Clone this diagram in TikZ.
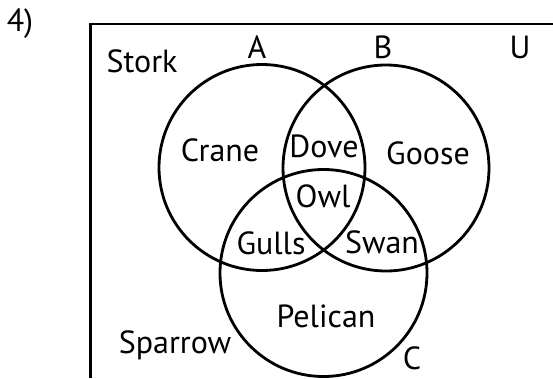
\documentclass[tikz,border=0pt]{standalone}
\usepackage{fontspec}
\setmainfont{PT Sans}
\begin{document}
\begin{tikzpicture}[x=1pt,y=-1pt,line width=2.8pt,
    lbl/.style={font=\fontsize{32}{34}\selectfont,inner sep=0pt}]
\useasboundingbox (0,0) rectangle (553,378);
% universe (only top and left sides show)
\draw (553,24) -- (90.5,24) -- (90.5,378);
% the three sets
\coordinate (cA) at (262,167.5);
\coordinate (cB) at (386,168);
\coordinate (cC) at (323.5,273);
\draw (cA) circle (103);
\draw (cB) circle (103);
\draw (cC) circle (103.5);
% labels
\node[lbl] (num) at (20,24) {4)};
\node[lbl] (setA) at (257,47) {A};
\node[lbl] (setB) at (383,47) {B};
\node[lbl] (setU) at (520,47) {U};
\node[lbl] (setC) at (412,358) {C};
\node[lbl] (stork) at (142,61) {Stork};
\node[lbl] (crane) at (220,150) {Crane};
\node[lbl] (dove) at (324,146) {Dove};
\node[lbl] (goose) at (428,153) {Goose};
\node[lbl] (owl) at (323,196) {Owl};
\node[lbl] (gulls) at (271,243) {Gulls};
\node[lbl] (swan) at (382,242) {Swan};
\node[lbl] (pelican) at (326,316) {Pelican};
\node[lbl] (sparrow) at (175,345) {Sparrow};
\end{tikzpicture}
\end{document}
